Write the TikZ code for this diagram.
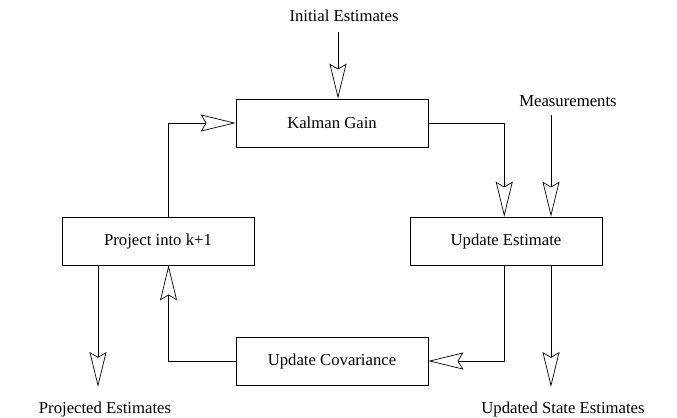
\documentclass[tikz,border=0pt]{standalone}
\usepackage{fontspec}
\setmainfont{Liberation Serif}
\usetikzlibrary{arrows.meta}
\tikzset{
  box/.style={draw,minimum width=3.84cm,minimum height=0.96cm,font=\fontsize{9.5}{11}\selectfont},
  lbl/.style={font=\fontsize{9.5}{11}\selectfont},
  flow/.style={-{Stealth[open,length=0.7cm,width=0.34cm,inset=0.1cm]}}
}
\begin{document}
\begin{tikzpicture}[x=0.02cm,y=-0.02cm]
  \useasboundingbox (0,0) rectangle (677,417);
  \node[box] (gain) at (332,123){Kalman Gain};
  \node[box] (upd) at (506,241){Update Estimate};
  \node[box] (proj) at (158,241){Project into k+1};
  \node[box] (cov) at (332,361){Update Covariance};

  \node[lbl] (init) at (344,16){Initial Estimates};
  \node[lbl] (meas) at (568,101){Measurements};
  \node[lbl] (ust) at (563,409){Updated State Estimates};
  \node[lbl] (pest) at (105,409){Projected Estimates};

  \coordinate (initend) at (338,32);
  \coordinate (measend) at (551,115);
  \coordinate (ustend) at (551,387);
  \coordinate (pestend) at (98,387);

  \draw[flow] (initend) -- (initend |- gain.north);
  \draw[flow] (measend) -- (measend |- upd.north);
  \draw[flow] (gain.east) -| ([xshift=-1]upd.north);
  \draw[flow] ([xshift=-1]upd.south) |- (cov.east);
  \draw[flow] (ustend |- upd.south) -- (ustend);
  \draw[flow] (cov.west) -| ([xshift=6]proj.south);
  \draw[flow] ([xshift=6]proj.north) |- (gain.west);
  \draw[flow] (pestend |- proj.south) -- (pestend);
\end{tikzpicture}
\end{document}
